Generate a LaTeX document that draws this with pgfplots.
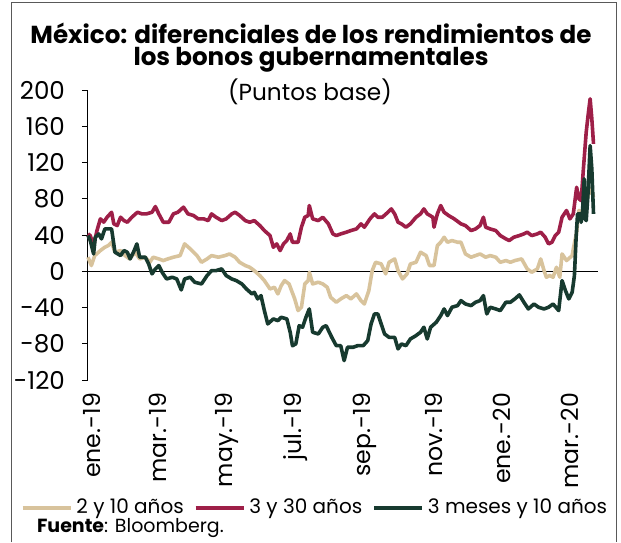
\documentclass[border=0pt]{standalone}
\usepackage{fontspec}
\setmainfont{Poppins}
\usepackage{pgfplots}
\pgfplotsset{compat=1.18}

\definecolor{cTan}{HTML}{D8C39C}
\definecolor{cRed}{HTML}{9E1F48}
\definecolor{cGreen}{HTML}{173A2F}

% x = days since 1 Jan 2019
\begin{document}
\begin{tikzpicture}
\useasboundingbox (-44pt,-81pt) rectangle (266.5pt,190pt);
\draw[gray!70!black, line width=0.5pt] (-38pt,-81pt) -- (-38pt,188.5pt) -- (264pt,188.5pt) -- (264pt,-81pt);

\node[font=\fontsize{12.3}{14}\selectfont\bfseries] at (111.5pt,173.5pt) {México: diferenciales de los rendimientos de};
\node[font=\fontsize{12.3}{14}\selectfont\bfseries] at (111.5pt,160pt) {los bonos gubernamentales};
\node[font=\fontsize{11.6}{13}\selectfont] at (111pt,144pt) {(Puntos base)};

\begin{axis}[
    at={(0pt,0pt)}, anchor=south west,
    scale only axis,
    width=255pt, height=145pt,
    xmin=0, xmax=454,
    ymin=-120, ymax=200,
    clip=false,
    axis y line*=left,
    axis x line*=bottom,
    x axis line style={draw=none},
    xtick={0,59,120,181,243,304,365,425},
    xticklabels={ene.-19,mar.-19,may.-19,jul.-19,sep.-19,nov.-19,ene.-20,mar.-20},
    xtick style={draw=none},
    x tick label style={rotate=90, anchor=east, font=\fontsize{11.8}{13}\selectfont, yshift=-2pt},
    ytick={-120,-80,-40,0,40,80,120,160,200},
    yticklabels={-120,-80,-40,0,40,80,120,160,200},
    y tick label style={font=\fontsize{12.3}{14}\selectfont, xshift=-5pt},
    tick align=outside,
    major tick length=3pt,
    ytick style={black, line width=0.5pt},
    y axis line style={black, line width=0.5pt},
    legend columns=3,
    legend style={at={(0.447,-0.441)}, anchor=center, draw=none, fill=none,
        font=\fontsize{10}{12}\selectfont,
        /tikz/every even column/.append style={column sep=3pt},
        inner xsep=0pt},
    legend image code/.code={\draw[#1] (0pt,0pt) -- (24pt,0pt);},
    every axis plot/.append style={line width=1.8pt, line join=round},
]
\draw[black, line width=0.5pt] (axis cs:0,0) -- (axis cs:454,0);

\addplot[cTan, no markers] coordinates {
(0,15.5) (3,6.3) (6,17.3) (11,22.8) (15,26.5) (18,28.3) (21,32) (24,21) (29,22.8) (33,17.3) (37,13.6) (42,21) (46,13.6) (51,15.5) (55,9.9) (58,15.5) (63,13.6) (67,11.8) (71,13.6) (76,15.5) (82,17.3) (86,30.2) (91,24.7) (97,17.3) (101,9.9) (106,13.6)
(110,17.3) (116,15.5) (122,17.3) (126,19.1) (131,15.5) (135,9.9) (140,6.3) (144,4.4) (148,0.7) (153,-4.8) (157,-10.3) (162,-19.5) (166,-17.7) (169,-25) (172,-15.8) (175,-10.3) (179,-14) (184,-30.5) (187,-43.4) (190,-39.7) (193,-14) (196,-10.3) (197,-1.1) (200,-14) (205,-12.1) (209,-14) (213,-17.7) (216,-28.7)
(221,-34.2) (225,-30.5) (230,-26.9) (234,-30.5) (239,-25) (243,-32.4) (246,-36.1) (250,-21.3) (253,0.7) (256,9.9) (261,8.1) (265,-2.9) (268,9.9) (273,13.6) (276,0.7) (280,-8.5) (284,-2.9) (287,8.1) (292,9.9) (296,21) (301,17.3) (304,6.3) (308,6.3) (311,28.3) (314,32) (317,37.5) (320,32) (324,33.9) (329,32)
(332,32) (336,19.1) (341,15.5) (345,17.3) (349,19.1) (354,15.5) (358,17.3) (363,15.5) (367,9.9) (372,11.8) (376,9.9) (380,11.8) (386,13.6) (391,2.6) (395,-1.1) (400,2.6) (403,13.6) (406,0.7) (408,-6.6) (411,-4.8) (414,-6.6) (417,4.4) (420,-6.6) (422,19.1) (426,11.8) (431,17.3) (432,24.7) (435,43.1) (437,67) (440,65.1) (443,72.5) (445,83.5) (448,90.9) (450,81.7)
};
\addlegendentry{2 y 10 años}

\addplot[cRed, no markers] coordinates {
(0,41.2) (2,39.4) (5,28.3) (8,44.9) (11,57.8) (14,54.2) (17,59.6) (21,65.1) (23,52.3) (26,50.4) (29,59.6) (32,55.9) (35,54.1) (39,59.6) (44,65.1) (48,63.3) (52,63.3) (57,65.1) (60,71.4) (63,63.3) (67,54.1) (72,54.1) (76,63.3) (80,65.1) (85,70.7) (89,63.3) (94,61.5) (98,57.8) (103,57.8) (107,55.9)
(110,63.3) (114,59.6) (119,55.9) (123,57.8) (128,63.3) (131,65.1) (135,61.5) (140,55.9) (144,54.1) (148,55.9) (153,50.4) (157,44.9) (162,39.4) (165,26.5) (168,30.2) (171,22.8) (174,30.2) (177,33.9) (180,41.2) (182,32) (187,32) (190,48.6) (193,59.6) (196,61.5) (197,72.5) (200,57.8) (205,55.9) (209,59.6) (214,52.3) (218,41.2)
(221,39.4) (225,41.2) (230,43.1) (234,44.9) (239,46.7) (243,52.3) (246,48.6) (251,57.8) (255,63.3) (258,59.6) (262,59.6) (267,65.1) (270,68.8) (273,63.3) (276,54.1) (279,52.3) (283,48.6) (287,52.3) (292,59.6) (296,63.3) (299,68.8) (302,63.3) (307,59.6) (308,48.6) (311,63.3) (314,72.5) (317,65.1) (321,61.5) (326,57.8)
(332,52.3) (336,50.4) (341,44.9) (345,46.7) (349,50.4) (352,59.6) (354,48.6) (358,46.7) (363,44.9) (367,39.4) (372,35.7) (375,33.9) (379,37.5) (384,39.4) (388,41.2) (391,43.1) (395,39.4) (400,41.2) (403,43.1) (407,37.5) (410,30.2) (413,32) (416,39.4) (419,43.1) (422,59.6) (426,67) (429,57.8) (432,63.3) (435,92.7) (437,79.9) (439,78) (441,113) (443.5,153.5) (445.5,175.5) (447,190.3) (448.5,168.2) (450,140.6)
};
\addlegendentry{3 y 30 años}

\addplot[cGreen, no markers] coordinates {
(0,39.4) (2,33.9) (5,19.1) (6.5,37.5) (9.5,41.2) (12,35.7) (15,46.7) (18,46.7) (21,46.7) (24,21) (29,17.3) (32,22.8) (35,21) (37.5,13.6) (40.5,21) (43.5,30.2) (46,15.5) (51,15.5) (54,8.1) (57,-2.9) (60,2.6) (63,6.3) (66,-1.1) (70,-8.5) (75,-6.6) (79,-8.5) (83,-20.6) (86,-8.5) (91,-6.6) (95,-12.1) (101,-14) (106,-4.8)
(110,0.7) (114,0.7) (119,2.6) (123,-4.8) (128,-8.5) (132,-10.3) (137,-14) (141,-19.5) (146,-25) (148,-23.2) (151,-30.5) (154,-26.9) (157,-43.4) (160,-58.1) (165,-52.6) (169,-54.5) (172,-50.8) (177,-52.6) (180,-67.3) (182,-82.1) (185,-80.2) (188,-60) (191,-61.8) (194,-50.8) (197,-41.6) (200,-67.3) (205,-69.2) (209,-61.8) (212,-60) (217,-72.9)
(221,-82.1) (225,-82.1) (228,-98.6) (231,-83.9) (236,-83.9) (240,-82.1) (245,-82.1) (249,-76.5) (252,-58.1) (255,-47.1) (258,-47.1) (261,-58.1) (264,-69.2) (268,-72.9) (273,-72.9) (276,-85.7) (279,-80.2) (283,-82.1) (287,-74.7) (292,-71) (296,-67.3) (299,-61.8) (302,-74.7) (305,-61.8) (310,-56.3) (314,-48.9) (317,-41.6) (320,-48.9) (324,-39.7) (329,-37.9)
(332,-32.4) (336,-36.1) (341,-37.9) (345,-34.2) (349,-32.4) (352,-26.9) (355,-47.1) (358,-39.7) (363,-41.6) (367,-43.4) (372,-34.2) (376,-34.2) (380,-30.5) (384,-26.1) (388,-34.2) (392,-41.6) (397,-36.1) (401,-39.7) (406,-41.6) (410,-39.7) (414,-36.1) (419,-43.4) (422,-10.3) (425,-21.3) (428,-30.5) (431,-23.2) (433,-4.8) (434.6,39.4) (435.8,63.3) (438.2,63.3) (439,54) (440.2,65) (441.7,102) (442.6,57.8) (443.5,55.9) (445,83.5) (447,138.7) (448.5,113) (450,63.3)
};
\addlegendentry{3 meses y 10 años}
\end{axis}

\node[anchor=west, font=\fontsize{9.5}{11}\selectfont] at (-29pt,-74pt) {\textbf{Fuente}: Bloomberg.};
\end{tikzpicture}
\end{document}
